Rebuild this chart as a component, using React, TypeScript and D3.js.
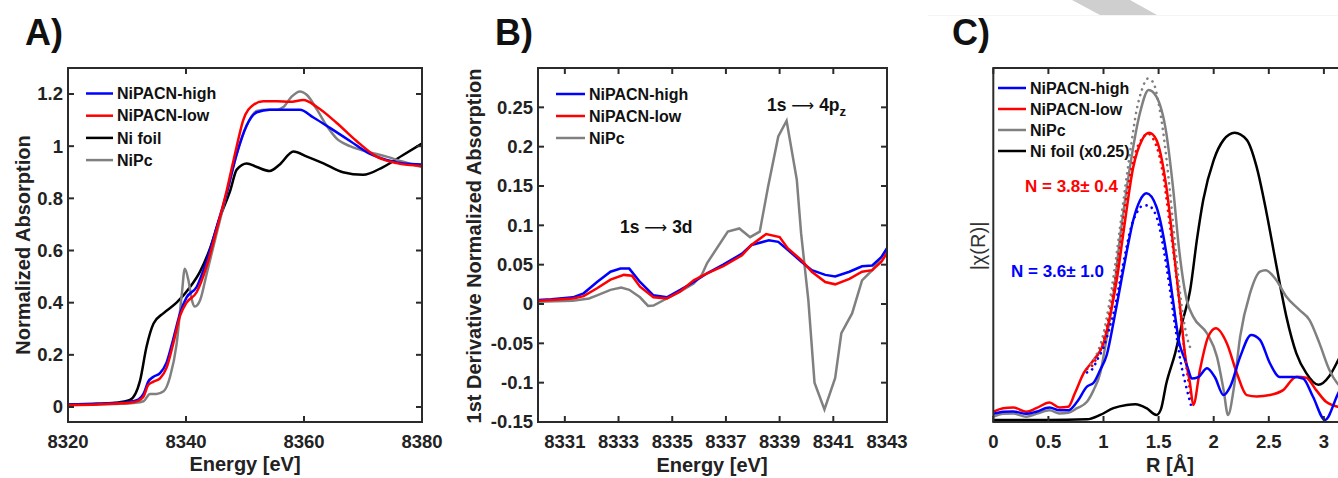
import React from "react";
import * as d3 from "d3";

type P = [number, number];

// ---------- Panel A data ----------
const aTicksX = [8320, 8340, 8360, 8380];
const aTicksY = [0, 0.2, 0.4, 0.6, 0.8, 1, 1.2];
const aHigh: P[] = [
  [8320, 0.01], [8325, 0.012], [8329, 0.016], [8331, 0.022], [8332, 0.03], [8332.8, 0.05],
  [8333.6, 0.097], [8334.5, 0.116], [8335.6, 0.13], [8336.7, 0.17], [8337.8, 0.257], [8339, 0.36],
  [8340.1, 0.42], [8341.8, 0.46], [8343.5, 0.56], [8345.2, 0.69], [8346.9, 0.82], [8348.6, 0.97],
  [8350.3, 1.08], [8352, 1.13], [8354.2, 1.14], [8356.5, 1.14], [8359.3, 1.14], [8361.6, 1.11],
  [8364.4, 1.07], [8367.8, 1.02], [8371.2, 0.97], [8374, 0.947], [8376.8, 0.934], [8380, 0.93],
];
const aLow: P[] = [
  [8320, 0.008], [8325, 0.01], [8329, 0.014], [8331, 0.018], [8332, 0.025], [8332.8, 0.04],
  [8333.6, 0.084], [8334.5, 0.097], [8335.6, 0.11], [8336.7, 0.15], [8337.8, 0.24], [8339, 0.35],
  [8340.1, 0.4], [8341.8, 0.44], [8343.5, 0.54], [8345.2, 0.68], [8346.9, 0.83], [8348.6, 1.0],
  [8349.7, 1.1], [8351.4, 1.158], [8353.1, 1.172], [8355.4, 1.172], [8357.6, 1.17], [8359.9, 1.177],
  [8362.2, 1.15], [8365.5, 1.09], [8368.9, 1.02], [8372.3, 0.96], [8375.7, 0.935], [8380, 0.924],
];
const aFoil: P[] = [
  [8320, 0.01], [8325, 0.012], [8328, 0.016], [8330.5, 0.027], [8332.2, 0.1], [8333.3, 0.23],
  [8334.5, 0.32], [8336.2, 0.36], [8338.4, 0.4], [8340.7, 0.46], [8342.4, 0.52], [8344.1, 0.61],
  [8345.8, 0.73], [8347.5, 0.83], [8348.6, 0.91], [8350.3, 0.934], [8352, 0.92], [8354.2, 0.905],
  [8355.9, 0.93], [8358.2, 0.98], [8360.5, 0.96], [8363.3, 0.934], [8366.6, 0.9], [8370, 0.89],
  [8373.4, 0.92], [8376.8, 0.966], [8380, 1.01],
];
const aNiPc: P[] = [
  [8320, 0.008], [8325, 0.01], [8329, 0.012], [8331, 0.015], [8332.8, 0.022], [8333.9, 0.05],
  [8335, 0.05], [8336.2, 0.06], [8337.3, 0.116], [8338.4, 0.24], [8339.3, 0.436], [8339.8, 0.53],
  [8340.4, 0.487], [8341, 0.41], [8341.5, 0.385], [8342.4, 0.41], [8343.5, 0.51], [8345.2, 0.666],
  [8346.9, 0.82], [8348.6, 0.97], [8350.3, 1.08], [8352, 1.135], [8353.7, 1.14], [8355.4, 1.14],
  [8356.5, 1.15], [8357.9, 1.19], [8359.3, 1.21], [8360.5, 1.196], [8362.2, 1.14], [8363.8, 1.08],
  [8365.5, 1.03], [8367.8, 1.0], [8370.6, 0.98], [8374, 0.96], [8376.8, 0.94], [8380, 0.92],
];

// ---------- Panel B data ----------
const bTicksX = [8331, 8333, 8335, 8337, 8339, 8341, 8343];
const bTicksY = [-0.15, -0.1, -0.05, 0, 0.05, 0.1, 0.15, 0.2, 0.25];
const bHigh: P[] = [
  [8330, 0.005], [8330.5, 0.006], [8331.3, 0.0085], [8331.7, 0.0136], [8332.2, 0.028], [8332.7, 0.041],
  [8333.07, 0.045], [8333.4, 0.045], [8333.8, 0.028], [8334.3, 0.011], [8334.8, 0.0085], [8335.3, 0.018],
  [8335.8, 0.028], [8336.3, 0.039], [8336.9, 0.05], [8337.6, 0.064], [8337.95, 0.075], [8338.6, 0.081],
  [8338.95, 0.079], [8339.3, 0.069], [8339.8, 0.054], [8340.2, 0.043], [8340.7, 0.037], [8341.07, 0.035],
  [8341.6, 0.041], [8342.07, 0.048], [8342.45, 0.049], [8342.8, 0.06], [8343, 0.071],
];
const bLow: P[] = [
  [8330, 0.004], [8330.5, 0.005], [8331.3, 0.007], [8331.7, 0.01], [8332.2, 0.02], [8332.7, 0.031],
  [8333.2, 0.037], [8333.5, 0.036], [8333.8, 0.022], [8334.3, 0.0085], [8334.8, 0.007], [8335.3, 0.016],
  [8335.8, 0.03], [8336.3, 0.039], [8336.9, 0.048], [8337.6, 0.062], [8337.95, 0.075], [8338.5, 0.089],
  [8339, 0.085], [8339.3, 0.071], [8339.8, 0.056], [8340.2, 0.041], [8340.7, 0.028], [8341.07, 0.025],
  [8341.6, 0.032], [8342.07, 0.041], [8342.45, 0.043], [8342.8, 0.054], [8343, 0.065],
];
const bNiPc: P[] = [
  [8330, 0.003], [8331.3, 0.004], [8331.9, 0.007], [8332.2, 0.011], [8332.7, 0.018], [8333.1, 0.021],
  [8333.4, 0.018], [8333.8, 0.0085], [8334.1, -0.0025], [8334.3, -0.002], [8334.8, 0.007], [8335.3, 0.016],
  [8335.8, 0.026], [8336.1, 0.037], [8336.3, 0.052], [8337.07, 0.092], [8337.5, 0.096], [8337.9, 0.085],
  [8338.26, 0.092], [8338.57, 0.149], [8338.95, 0.213], [8339.26, 0.233], [8339.64, 0.158], [8339.8, 0.09],
  [8340.07, 0.005], [8340.3, -0.1], [8340.67, -0.134], [8341.07, -0.094], [8341.3, -0.037], [8341.7, -0.012],
  [8342.07, 0.03], [8342.45, 0.043], [8342.8, 0.06], [8343, 0.07],
];

// ---------- Panel C data ----------
const cTicksX = [0, 0.5, 1, 1.5, 2, 2.5, 3, 3.5];
const cHigh: P[] = [
  [0, 0.023], [0.09, 0.029], [0.18, 0.03], [0.3, 0.023], [0.39, 0.029], [0.51, 0.041], [0.6, 0.033],
  [0.68, 0.033], [0.76, 0.057], [0.85, 0.1], [0.91, 0.111], [0.97, 0.147], [1.03, 0.19], [1.09, 0.28],
  [1.15, 0.38], [1.21, 0.48], [1.27, 0.57], [1.33, 0.625], [1.39, 0.646], [1.48, 0.608], [1.57, 0.477],
  [1.63, 0.345], [1.69, 0.22], [1.735, 0.18], [1.77, 0.147], [1.8, 0.123], [1.86, 0.127], [1.94, 0.152],
  [2.01, 0.127], [2.09, 0.076], [2.15, 0.1], [2.24, 0.184], [2.34, 0.246], [2.42, 0.232], [2.51, 0.166],
  [2.6, 0.127], [2.72, 0.127], [2.81, 0.123], [2.9, 0.072], [3.01, 0.006], [3.13, 0.081], [3.2, 0.12],
];
const cLow: P[] = [
  [0, 0.029], [0.09, 0.039], [0.18, 0.041], [0.3, 0.029], [0.39, 0.039], [0.51, 0.055], [0.6, 0.041],
  [0.68, 0.043], [0.74, 0.081], [0.82, 0.138], [0.91, 0.175], [1.0, 0.222], [1.06, 0.3], [1.12, 0.4],
  [1.18, 0.533], [1.27, 0.72], [1.35, 0.797], [1.415, 0.817], [1.48, 0.797], [1.57, 0.665], [1.65, 0.45],
  [1.7, 0.31], [1.74, 0.19], [1.785, 0.109], [1.815, 0.048], [1.875, 0.147], [1.95, 0.241], [2.02, 0.265],
  [2.12, 0.222], [2.21, 0.138], [2.3, 0.076], [2.39, 0.072], [2.51, 0.076], [2.63, 0.09], [2.75, 0.128],
  [2.84, 0.125], [2.93, 0.09], [3.02, 0.057], [3.13, 0.043], [3.2, 0.04],
];
const cNiPc: P[] = [
  [0, 0.015], [0.09, 0.023], [0.18, 0.024], [0.3, 0.015], [0.39, 0.023], [0.51, 0.033], [0.6, 0.024],
  [0.68, 0.026], [0.76, 0.039], [0.85, 0.057], [0.91, 0.09], [0.97, 0.138], [1.03, 0.24], [1.09, 0.36],
  [1.15, 0.52], [1.24, 0.72], [1.33, 0.872], [1.41, 0.938], [1.48, 0.919], [1.57, 0.816], [1.63, 0.665],
  [1.69, 0.477], [1.755, 0.345], [1.815, 0.297], [1.94, 0.25], [2.03, 0.184], [2.09, 0.09], [2.13, 0.02],
  [2.18, 0.09], [2.24, 0.241], [2.33, 0.364], [2.42, 0.425], [2.47, 0.429], [2.57, 0.4], [2.66, 0.354],
  [2.78, 0.316], [2.87, 0.288], [2.96, 0.222], [3.05, 0.147], [3.12, 0.11], [3.2, 0.09],
];
const cFoil: P[] = [
  [0, 0.006], [0.5, 0.006], [0.85, 0.0075], [0.97, 0.02], [1.09, 0.039], [1.21, 0.048], [1.29, 0.05],
  [1.39, 0.039], [1.48, 0.02], [1.52, 0.035], [1.57, 0.109], [1.65, 0.194], [1.72, 0.288], [1.785, 0.37],
  [1.85, 0.52], [1.905, 0.627], [2.0, 0.74], [2.09, 0.797], [2.19, 0.817], [2.3, 0.797], [2.39, 0.72],
  [2.48, 0.59], [2.57, 0.44], [2.66, 0.297], [2.75, 0.194], [2.84, 0.138], [2.95, 0.105], [3.05, 0.13],
  [3.13, 0.175], [3.2, 0.22],
];
const cHighFit: P[] = [
  [0.85, 0.14], [0.9, 0.15], [0.95, 0.18], [1.0, 0.21], [1.05, 0.26], [1.1, 0.32], [1.15, 0.4], [1.2, 0.48],
  [1.25, 0.55], [1.3, 0.59], [1.35, 0.61], [1.4, 0.612], [1.45, 0.6], [1.5, 0.56], [1.55, 0.48], [1.6, 0.38],
  [1.65, 0.27], [1.7, 0.17], [1.75, 0.1], [1.8, 0.04],
];
const cLowFit: P[] = [
  [0.85, 0.15], [0.9, 0.16], [0.95, 0.19], [1.0, 0.23], [1.05, 0.3], [1.1, 0.39], [1.15, 0.5], [1.2, 0.62],
  [1.25, 0.71], [1.3, 0.77], [1.35, 0.8], [1.4, 0.815], [1.45, 0.8], [1.5, 0.76], [1.55, 0.68], [1.6, 0.56],
  [1.65, 0.44], [1.7, 0.3], [1.75, 0.16], [1.8, 0.06],
];
const cNiPcFit: P[] = [
  [0.85, 0.15], [0.9, 0.17], [0.95, 0.2], [1.0, 0.25], [1.05, 0.33], [1.1, 0.43], [1.15, 0.55], [1.2, 0.67],
  [1.25, 0.78], [1.3, 0.88], [1.35, 0.94], [1.4, 0.97], [1.45, 0.96], [1.5, 0.9], [1.55, 0.8], [1.6, 0.66],
  [1.65, 0.5], [1.7, 0.35], [1.75, 0.25], [1.8, 0.2],
];

const BLUE = "#0000ff";
const RED = "#ff0000";
const GRAY = "#808080";
const BLACK = "#000000";
const AXIS = "#2b2b2b";
const FONT = "'Liberation Sans', Arial, sans-serif";

const legendA = [
  { label: "NiPACN-high", color: BLUE },
  { label: "NiPACN-low", color: RED },
  { label: "Ni foil", color: BLACK },
  { label: "NiPc", color: GRAY },
];
const legendB = [
  { label: "NiPACN-high", color: BLUE },
  { label: "NiPACN-low", color: RED },
  { label: "NiPc", color: GRAY },
];
const legendC = [
  { label: "NiPACN-high", color: BLUE },
  { label: "NiPACN-low", color: RED },
  { label: "NiPc", color: GRAY },
  { label: "Ni foil (x0.25)", color: BLACK },
];

type Box = { x0: number; x1: number; y0: number; y1: number };

function fmt(v: number) {
  return String(+v.toFixed(2));
}

function Frame({ box, xs, ys, xt, yt, id, yLabels }: any) {
  const tl = 6;
  const visRight = Math.min(box.x1, 1338);
  return (
    <g>
      <defs>
        <clipPath id={id}>
          <rect x={box.x0} y={box.y0} width={box.x1 - box.x0} height={box.y1 - box.y0} />
        </clipPath>
      </defs>
      <rect x={box.x0} y={box.y0} width={box.x1 - box.x0} height={box.y1 - box.y0}
        fill="none" stroke={AXIS} strokeWidth={2} />
      {xt.map((t: number) => (
        <g key={"x" + t}>
          <line x1={xs(t)} x2={xs(t)} y1={box.y1} y2={box.y1 - tl} stroke={AXIS} strokeWidth={2} />
          <line x1={xs(t)} x2={xs(t)} y1={box.y0} y2={box.y0 + tl} stroke={AXIS} strokeWidth={2} />
          {xs(t) < visRight + 30 && (
            <text x={xs(t)} y={448} textAnchor="middle" fontSize={18.5} fontWeight="bold"
              fontFamily={FONT} fill="#222">{fmt(t)}</text>
          )}
        </g>
      ))}
      {yt.map((t: number) => (
        <g key={"y" + t}>
          <line x1={box.x0} x2={box.x0 + tl} y1={ys(t)} y2={ys(t)} stroke={AXIS} strokeWidth={2} />
          <line x1={box.x1} x2={box.x1 - tl} y1={ys(t)} y2={ys(t)} stroke={AXIS} strokeWidth={2} />
          {yLabels && (
            <text x={box.x0 - 5} y={ys(t)} dy="0.35em" textAnchor="end" fontSize={18.5} fontWeight="bold"
              fontFamily={FONT} fill="#222">{fmt(t)}</text>
          )}
        </g>
      ))}
    </g>
  );
}

function Legend({ items, x, y, dy, lineLen }: any) {
  return (
    <g>
      {items.map((it: any, i: number) => (
        <g key={it.label}>
          <line x1={x} x2={x + lineLen} y1={y + i * dy} y2={y + i * dy} stroke={it.color} strokeWidth={2.5} />
          <text x={x + lineLen + 4} y={y + i * dy} dy="0.36em" fontSize={16} fontWeight="bold"
            fontFamily={FONT} fill="#111">{it.label}</text>
        </g>
      ))}
    </g>
  );
}

export default function App() {
  // Panel A
  const boxA: Box = { x0: 68, x1: 422, y0: 68, y1: 422 };
  const xA = d3.scaleLinear().domain([8320, 8380]).range([boxA.x0, boxA.x1]);
  const yA = d3.scaleLinear().domain([-0.0575, 1.2997]).range([boxA.y1, boxA.y0]);
  const lineA = d3.line<P>().x((d) => xA(d[0])).y((d) => yA(d[1])).curve(d3.curveMonotoneX);

  // Panel B
  const boxB: Box = { x0: 538, x1: 887, y0: 68, y1: 422 };
  const xB = d3.scaleLinear().domain([8330, 8343]).range([boxB.x0, boxB.x1]);
  const yB = d3.scaleLinear().domain([-0.15, 0.3]).range([boxB.y1, boxB.y0]);
  const lineB = d3.line<P>().x((d) => xB(d[0])).y((d) => yB(d[1])).curve(d3.curveLinear);

  // Panel C
  const cScale = 110.2;
  const boxC: Box = { x0: 993.3, x1: 993.3 + 3.5 * cScale, y0: 68, y1: 422 };
  const xC = d3.scaleLinear().domain([0, 3.5]).range([boxC.x0, boxC.x1]);
  const yC = d3.scaleLinear().domain([0, 1]).range([boxC.y1, boxC.y0]);
  const lineC = d3.line<P>().x((d) => xC(d[0])).y((d) => yC(d[1])).curve(d3.curveMonotoneX);

  const sw = 2.5;
  const ARROW_FONT = "'DejaVu Sans', sans-serif";

  return (
    <svg width={1338} height={478} style={{ position: "absolute", left: 0, top: 0, background: "#fff" }}
      fontFamily={FONT}>
      <rect x={0} y={0} width={1338} height={478} fill="#fff" />
      {/* faint artifacts at top of panel C */}
      <line x1={928} x2={1338} y1={15.5} y2={15.5} stroke="#f5f5f5" strokeWidth={1} />
      <polygon points="1072,0 1130,0 1157,15 1100,15" fill="#cfcfcf" />

      {/* ---------- Panel A ---------- */}
      <text x={25} y={45} fontSize={36} fontWeight="bold" fill="#111">A)</text>
      <g clipPath="url(#clipA)">
        <path d={lineA(aFoil) || ""} fill="none" stroke={BLACK} strokeWidth={sw} />
        <path d={lineA(aNiPc) || ""} fill="none" stroke={GRAY} strokeWidth={sw} />
        <path d={lineA(aHigh) || ""} fill="none" stroke={BLUE} strokeWidth={sw} />
        <path d={lineA(aLow) || ""} fill="none" stroke={RED} strokeWidth={sw} />
      </g>
      <Frame box={boxA} xs={xA} ys={yA} xt={aTicksX} yt={aTicksY} id="clipA" yLabels />
      <Legend items={legendA} x={86} y={93.5} dy={22.2} lineLen={27} />
      <text x={245} y={471} textAnchor="middle" fontSize={20} fontWeight="bold" fill="#222">Energy [eV]</text>
      <text transform="translate(30,245) rotate(-90)" textAnchor="middle" fontSize={20} fontWeight="bold"
        fill="#222">Normalized Absorption</text>

      {/* ---------- Panel B ---------- */}
      <text x={495} y={45} fontSize={36} fontWeight="bold" fill="#111">B)</text>
      <g clipPath="url(#clipB)">
        <path d={lineB(bNiPc) || ""} fill="none" stroke={GRAY} strokeWidth={sw} />
        <path d={lineB(bHigh) || ""} fill="none" stroke={BLUE} strokeWidth={sw} />
        <path d={lineB(bLow) || ""} fill="none" stroke={RED} strokeWidth={sw} />
      </g>
      <Frame box={boxB} xs={xB} ys={yB} xt={bTicksX} yt={bTicksY} id="clipB" yLabels />
      <Legend items={legendB} x={556} y={94} dy={22} lineLen={29} />
      <text x={620} y={233} fontSize={17.5} fontWeight="bold" fill="#111">
        1s <tspan fontWeight="normal" fontFamily={ARROW_FONT} fontSize={16}>⟶</tspan> 3d
      </text>
      <text x={767} y={111} fontSize={17.5} fontWeight="bold" fill="#111">
        1s <tspan fontWeight="normal" fontFamily={ARROW_FONT} fontSize={16}>⟶</tspan> 4p<tspan dy={5} fontSize={13}>z</tspan>
      </text>
      <text x={712} y={472} textAnchor="middle" fontSize={20} fontWeight="bold" fill="#222">Energy [eV]</text>
      <text transform="translate(481,246) rotate(-90)" textAnchor="middle" fontSize={20} fontWeight="bold"
        fill="#222">1st Derivative Normalized Absorption</text>

      {/* ---------- Panel C ---------- */}
      <text x={952} y={45} fontSize={36} fontWeight="bold" fill="#111">C)</text>
      <g clipPath="url(#clipC)">
        <path d={lineC(cFoil) || ""} fill="none" stroke={BLACK} strokeWidth={sw} />
        <path d={lineC(cNiPc) || ""} fill="none" stroke={GRAY} strokeWidth={sw} />
        <path d={lineC(cLow) || ""} fill="none" stroke={RED} strokeWidth={sw} />
        <path d={lineC(cHigh) || ""} fill="none" stroke={BLUE} strokeWidth={sw} />
        <path d={lineC(cNiPcFit) || ""} fill="none" stroke={GRAY} strokeWidth={2.6}
          strokeDasharray="0.1 6" strokeLinecap="round" />
        <path d={lineC(cLowFit) || ""} fill="none" stroke={RED} strokeWidth={2.6}
          strokeDasharray="0.1 6" strokeLinecap="round" />
        <path d={lineC(cHighFit) || ""} fill="none" stroke={BLUE} strokeWidth={2.6}
          strokeDasharray="0.1 6" strokeLinecap="round" />
      </g>
      <Frame box={boxC} xs={xC} ys={yC} xt={cTicksX} yt={[]} id="clipC" yLabels={false} />
      <Legend items={legendC} x={998} y={88} dy={21} lineLen={28} />
      <text x={1025} y={192} fontSize={17} fontWeight="bold" fill={RED}>N = 3.8± 0.4</text>
      <text x={1011} y={277} fontSize={17} fontWeight="bold" fill={BLUE}>N = 3.6± 1.0</text>
      <text x={1170} y={472} textAnchor="middle" fontSize={20} fontWeight="bold" fill="#222">R [Å]</text>
      <text transform="translate(985,246) rotate(-90)" textAnchor="middle" fontSize={20}
        fill="#333">|χ(R)|</text>
    </svg>
  );
}
